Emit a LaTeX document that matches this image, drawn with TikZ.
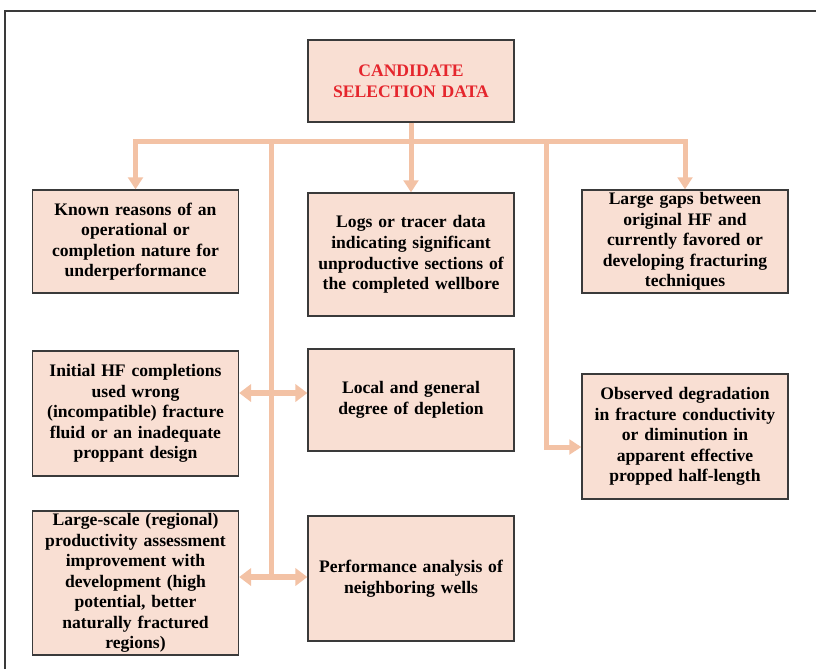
\documentclass[tikz,border=0pt]{standalone}
\usepackage{fontspec}
\setmainfont{Liberation Serif}
\usetikzlibrary{arrows.meta,positioning,calc}
\definecolor{boxFill}{HTML}{F9DFD3}
\definecolor{busLine}{HTML}{F3C2A5}
\definecolor{titleRed}{HTML}{E5262D}
\definecolor{frameGray}{HTML}{3A3A3A}

\begin{document}
\begin{tikzpicture}[x=0.75pt,y=-0.75pt,
  every node/.style={font=\bfseries\fontsize{13.2}{15.4}\selectfont},
  databox/.style={draw=frameGray,line width=1pt,fill=boxFill,align=center,
    text width=150pt,minimum width=154.5pt,inner sep=1pt},
  bus/.style={busLine,line width=3.75pt},
  feed/.style={bus,-{Triangle[width=11pt,length=9pt]}},
  both/.style={busLine,line width=5pt,{Triangle[width=13pt,length=9pt]}-{Triangle[width=13pt,length=9pt]}}]
  \useasboundingbox (0,0) rectangle (816,669);
  \draw[frameGray,line width=0.9pt] (5,669) -- (5,11) -- (816,11);
  % boxes
  \node[databox,minimum height=61.5pt,text=titleRed] (cand) at (411,81) {CANDIDATE\\SELECTION DATA};
  \node[databox,minimum height=77.25pt] (known) at (135.5,241.5) {Known reasons of an\\operational or\\completion nature for\\underperformance};
  \node[databox,minimum height=92.25pt] (logs) at (411,254.5) {Logs or tracer data\\indicating significant\\unproductive sections of\\the completed wellbore};
  \node[databox,minimum height=77.25pt] (gaps) at (685,241.5) {Large gaps between\\original HF and\\currently favored or\\developing fracturing\\techniques};
  \node[databox,minimum height=93.75pt] (initial) at (135.5,413.5) {Initial HF completions\\used wrong\\(incompatible) fracture\\fluid or an inadequate\\proppant design};
  \node[databox,minimum height=76.5pt] (depl) at (411,400) {Local and general\\degree of depletion};
  \node[databox,minimum height=93.75pt] (degr) at (685,436.5) {Observed degradation\\in fracture conductivity\\or diminution in\\apparent effective\\propped half-length};
  \node[databox,minimum height=108pt] (large) at (135.5,583) {Large-scale (regional)\\productivity assessment\\improvement with\\development (high\\potential, better\\naturally fractured\\regions)};
  \node[databox,minimum height=93.75pt] (perf) at (411,578.5) {Performance analysis of\\neighboring wells};
  % connectors
  \coordinate (busY) at (0,141);
  \coordinate (spineA) at (271,141);
  \coordinate (spineB) at (546,141);
  \coordinate (dblA) at (271,393);
  \coordinate (dblB) at (271,577);
  \coordinate (elbowY) at (0,447);
  \draw[feed] (cand.south) -- (cand.south |- busY) -| (known.north);
  \draw[feed] (cand.south |- busY) -| (gaps.north);
  \draw[feed] (cand.south |- busY) -- (logs.north);
  \draw[bus] (spineA) -- (dblB);
  \draw[feed] (spineB) |- (degr.west |- elbowY);
  \draw[both] (initial.east |- dblA) -- (depl.west |- dblA);
  \draw[both] (large.east |- dblB) -- (perf.west |- dblB);
\end{tikzpicture}
\end{document}
